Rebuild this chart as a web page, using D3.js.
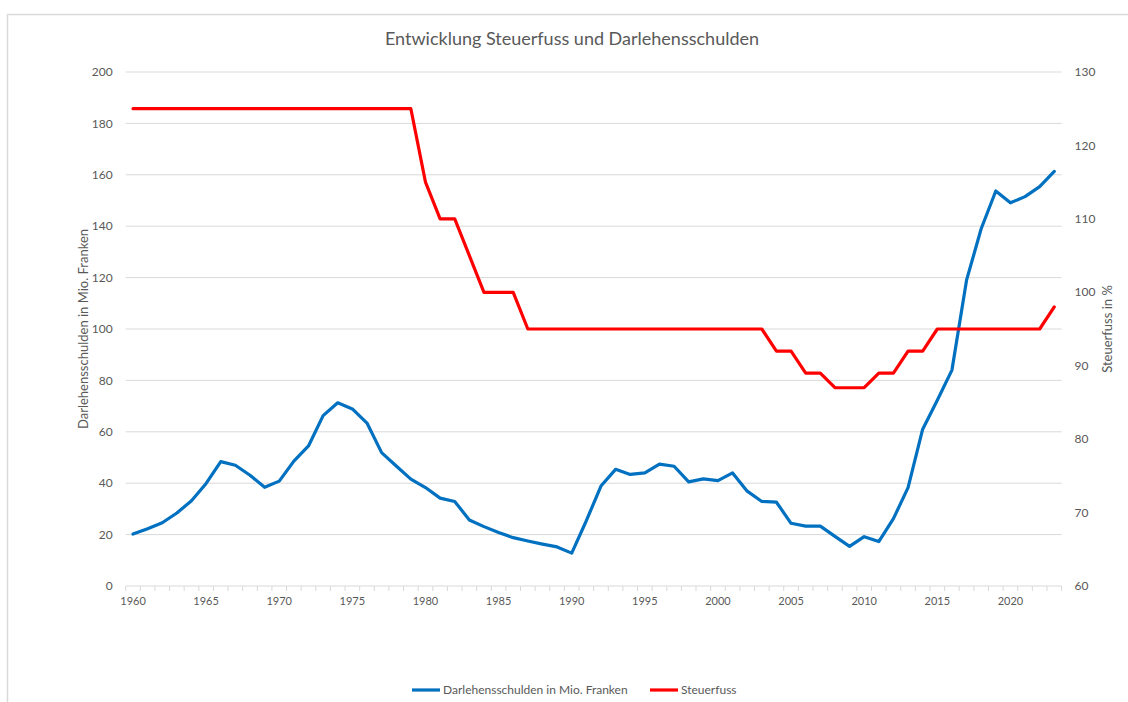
<!DOCTYPE html>
<html>
<head>
<meta charset="utf-8">
<script src="https://cdn.jsdelivr.net/npm/d3@7"></script>
<style>
  body { margin: 0; background: #fff; }
  text { font-family: Lato, "Open Sans", sans-serif; fill: #595959; }
</style>
</head>
<body>
<script>
// data
const years = d3.range(1960, 2024);
const debt = [
  20.2, 22.3, 24.6, 28.4, 33.2, 39.9, 48.4, 47.0, 43.1, 38.4,
  40.8, 48.6, 54.5, 66.3, 71.3, 68.9, 63.4, 51.9, 46.7, 41.6,
  38.3, 34.2, 32.9, 25.7, 23.1, 20.8, 18.8, 17.5, 16.3, 15.2,
  12.8, 25.4, 38.9, 45.4, 43.4, 44.0, 47.4, 46.6, 40.5, 41.7,
  41.0, 44.0, 36.9, 32.9, 32.6, 24.4, 23.3, 23.3, 19.3, 15.4,
  19.2, 17.3, 26.2, 38.3, 61.0, 72.3, 84.0, 119.0, 139.0, 153.7,
  149.1, 151.5, 155.4, 161.3
];
const tax = [
  125, 125, 125, 125, 125, 125, 125, 125, 125, 125,
  125, 125, 125, 125, 125, 125, 125, 125, 125, 125,
  115, 110, 110, 105, 100, 100, 100, 95, 95, 95,
  95, 95, 95, 95, 95, 95, 95, 95, 95, 95,
  95, 95, 95, 95, 92, 92, 89, 89, 87, 87,
  87, 89, 89, 92, 92, 95, 95, 95, 95, 95,
  95, 95, 95, 98
];
const leftTicks = d3.range(0, 201, 20);
const rightTicks = d3.range(60, 131, 10);
const seriesNames = ["Darlehensschulden in Mio. Franken", "Steuerfuss"];
const colors = ["#0070c0", "#ff0000"];

const W = 1128, H = 702;
const margin = {left: 125.7, right: 1128 - 1061.6, top: 72, bottom: 702 - 586};
const width = W - margin.left - margin.right;
const height = H - margin.top - margin.bottom;

let svg = d3.select("body").append("svg")
        .attr("width", W)
        .attr("height", H);

// chart frame
svg.append("rect")
   .attr("x", 7.5).attr("y", 14.5)
   .attr("width", 1140).attr("height", 700)
   .attr("fill", "none")
   .attr("stroke", "#d9d9d9")
   .attr("stroke-width", 1.5);

let g = svg.append("g")
        .attr("transform", "translate(" + margin.left + "," + margin.top + ")");

let x = d3.scaleBand().domain(years).range([0, width]);
let xc = d => x(d) + x.bandwidth() / 2;
let yL = d3.scaleLinear().domain([0, 200]).range([height, 0]);
let yR = d3.scaleLinear().domain([60, 130]).range([height, 0]);

// gridlines
g.append("g")
  .selectAll("line")
  .data(leftTicks.slice(1))
  .join("line")
  .attr("x1", 0).attr("x2", width)
  .attr("y1", d => yL(d)).attr("y2", d => yL(d))
  .attr("stroke", "#d9d9d9")
  .attr("stroke-width", 1);

// left axis labels
g.append("g")
  .selectAll("text")
  .data(leftTicks)
  .join("text")
  .attr("x", -13)
  .attr("y", d => yL(d))
  .attr("dy", "0.35em")
  .attr("text-anchor", "end")
  .attr("font-size", 12)
  .text(d => d);

// right axis labels
g.append("g")
  .selectAll("text")
  .data(rightTicks)
  .join("text")
  .attr("x", width + 13)
  .attr("y", d => yR(d))
  .attr("dy", "0.35em")
  .attr("text-anchor", "start")
  .attr("font-size", 12)
  .text(d => d);

// x axis with ticks between categories
let xAxis = g.append("g")
  .attr("transform", "translate(0," + height + ")");
xAxis.append("line")
  .attr("x1", 0).attr("x2", width)
  .attr("stroke", "#d9d9d9");
xAxis.selectAll("line.tick")
  .data(years.concat([2024]))
  .join("line")
  .attr("class", "tick")
  .attr("x1", (d, i) => i * x.step()).attr("x2", (d, i) => i * x.step())
  .attr("y1", 0).attr("y2", 5)
  .attr("stroke", "#d9d9d9");
xAxis.selectAll("text")
  .data(years.filter(d => d % 5 === 0))
  .join("text")
  .attr("x", d => xc(d))
  .attr("y", 19)
  .attr("text-anchor", "middle")
  .attr("font-size", 11)
  .text(d => d);

// lines
let lineL = d3.line().x((d, i) => xc(years[i])).y(d => yL(d));
let lineR = d3.line().x((d, i) => xc(years[i])).y(d => yR(d));

g.append("path")
  .datum(debt)
  .attr("d", lineL)
  .attr("fill", "none")
  .attr("stroke", colors[0])
  .attr("stroke-width", 3.2)
  .attr("stroke-linejoin", "round")
  .attr("stroke-linecap", "round");

g.append("path")
  .datum(tax)
  .attr("d", lineR)
  .attr("fill", "none")
  .attr("stroke", colors[1])
  .attr("stroke-width", 3.2)
  .attr("stroke-linejoin", "round")
  .attr("stroke-linecap", "round");

// title
svg.append("text")
   .attr("x", 572).attr("y", 45)
   .attr("text-anchor", "middle")
   .attr("font-size", 18)
   .text("Entwicklung Steuerfuss und Darlehensschulden");

// axis titles
svg.append("text")
   .attr("transform", "translate(88," + (margin.top + height / 2) + ") rotate(-90)")
   .attr("text-anchor", "middle")
   .attr("font-size", 13)
   .text("Darlehensschulden in Mio. Franken");

svg.append("text")
   .attr("transform", "translate(1112," + (margin.top + height / 2) + ") rotate(-90)")
   .attr("text-anchor", "middle")
   .attr("font-size", 13)
   .text("Steuerfuss in %");

// legend
const legend = [{x: 412, name: seriesNames[0], color: colors[0]},
                {x: 650, name: seriesNames[1], color: colors[1]}];
let lg = svg.append("g").selectAll("g").data(legend).join("g")
   .attr("transform", d => "translate(" + d.x + ",690)");
lg.append("line")
  .attr("x1", 0).attr("x2", 28)
  .attr("stroke", d => d.color)
  .attr("stroke-width", 3.2);
lg.append("text")
  .attr("x", 31)
  .attr("dy", "0.35em")
  .attr("font-size", 12)
  .text(d => d.name);
</script>
</body>
</html>
